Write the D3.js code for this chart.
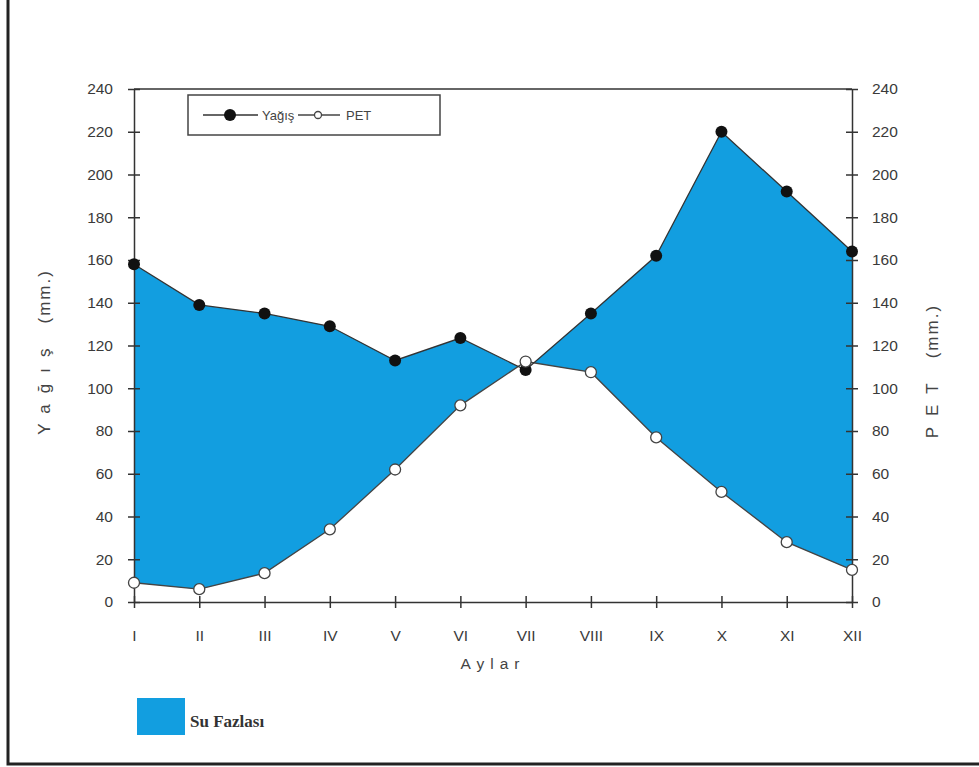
<!DOCTYPE html>
<html>
<head>
<meta charset="utf-8">
<script src="https://cdn.jsdelivr.net/npm/d3@7"></script>
<style>
  body { margin: 0; background: #fff; }
  text { font-family: "Liberation Sans", Arial, sans-serif; }
</style>
</head>
<body>
<div id="chart"></div>
<script>
// Data
var months = ["I", "II", "III", "IV", "V", "VI", "VII", "VIII", "IX", "X", "XI", "XII"];
var yagis = [158, 139, 135, 129, 113, 123.5, 108.5, 135, 162, 220, 192, 164];
var pet = [9, 6, 13.5, 34, 62, 92, 112.5, 107.5, 77, 51.5, 28, 15];
var yTicks = [0, 20, 40, 60, 80, 100, 120, 140, 160, 180, 200, 220, 240];

var W = 979, H = 767;
var margin = {top: 89, right: 127, bottom: 165, left: 134},
    width = W - margin.left - margin.right,
    height = H - margin.top - margin.bottom;

var blue = "#129ee0";
var ink = "#333";

var root = d3.select("#chart")
  .append("svg")
  .attr("width", W)
  .attr("height", H);

// page frame (left and bottom only)
root.append("path")
  .attr("d", "M8,0 L8,764 L979,764")
  .attr("fill", "none")
  .attr("stroke", "#222")
  .attr("stroke-width", 3);

var svg = root.append("g")
  .attr("transform", "translate(" + margin.left + "," + margin.top + ")");

var x = d3.scalePoint().domain(months).range([0, width]);
var y = d3.scaleLinear().domain([0, 240]).range([height, 0]);

var rows = months.map(function(m, i) { return {m: m, yag: yagis[i], pet: pet[i]}; });

// Surplus fill: region below Yağış and above PET
var clipArea = d3.area()
  .x(function(d) { return x(d.m); })
  .y0(y(0))
  .y1(function(d) { return y(d.yag); });

svg.append("clipPath")
  .attr("id", "belowYag")
  .append("path")
  .attr("d", clipArea(rows));

var fillArea = d3.area()
  .x(function(d) { return x(d.m); })
  .y0(function(d) { return y(d.pet); })
  .y1(y(240));

svg.append("path")
  .attr("d", fillArea(rows))
  .attr("fill", blue)
  .attr("clip-path", "url(#belowYag)");

// Axes
function styleAxis(g) {
  g.select(".domain").attr("stroke", ink).attr("stroke-width", 1.5);
  g.selectAll(".tick line").attr("stroke", ink).attr("stroke-width", 1.5);
  g.selectAll(".tick text")
    .attr("fill", "#3a3a3a")
    .style("font-size", "15.5px");
}

var yLeft = svg.append("g")
  .call(d3.axisLeft(y).tickValues(yTicks).tickSize(6).tickSizeOuter(0).tickPadding(15));
yLeft.selectAll(".tick line").attr("x1", 6);
styleAxis(yLeft);

var yRight = svg.append("g")
  .attr("transform", "translate(" + width + ",0)")
  .call(d3.axisRight(y).tickValues(yTicks).tickSize(6).tickSizeOuter(0).tickPadding(14));
yRight.selectAll(".tick line").attr("x1", -6);
styleAxis(yRight);

var xAxis = svg.append("g")
  .attr("transform", "translate(0," + height + ")")
  .call(d3.axisBottom(x).tickSize(6).tickSizeOuter(0).tickPadding(22));
xAxis.selectAll(".tick line").attr("y1", -6);
styleAxis(xAxis);

// top border of the plot
svg.append("line")
  .attr("x1", 0).attr("x2", width)
  .attr("y1", 0).attr("y2", 0)
  .attr("stroke", ink)
  .attr("stroke-width", 1.5);

// Lines
var lineYag = d3.line().x(function(d) { return x(d.m); }).y(function(d) { return y(d.yag); });
var linePet = d3.line().x(function(d) { return x(d.m); }).y(function(d) { return y(d.pet); });

svg.append("path").attr("d", linePet(rows))
  .attr("fill", "none").attr("stroke", "#444").attr("stroke-width", 1.3);
svg.append("path").attr("d", lineYag(rows))
  .attr("fill", "none").attr("stroke", "#333").attr("stroke-width", 1.3);

svg.selectAll(".dotYag")
  .data(rows)
  .enter()
  .append("circle")
  .attr("class", "dotYag")
  .attr("cx", function(d) { return x(d.m); })
  .attr("cy", function(d) { return y(d.yag); })
  .attr("r", 6)
  .attr("fill", "#111");

svg.selectAll(".dotPet")
  .data(rows)
  .enter()
  .append("circle")
  .attr("class", "dotPet")
  .attr("cx", function(d) { return x(d.m); })
  .attr("cy", function(d) { return y(d.pet); })
  .attr("r", 5.5)
  .attr("fill", "#fff")
  .attr("stroke", "#444")
  .attr("stroke-width", 1.3);

// Axis titles: spaced letters, then "(mm.)"
function axisTitle(g, word) {
  var t = g.append("text")
    .attr("text-anchor", "middle")
    .attr("fill", "#444")
    .style("font-size", "17px");
  t.append("tspan").style("letter-spacing", "11px").text(word);
  t.append("tspan").attr("dx", 14).style("letter-spacing", "2px").text("(mm.)");
  return t;
}

axisTitle(svg, "Yağış")
  .attr("transform", "translate(-84," + y(117) + ")rotate(-90)");

axisTitle(svg, "PET")
  .attr("transform", "translate(" + (width + 86) + "," + y(108) + ")rotate(-90)");

svg.append("text")
  .attr("x", x("VI") + (x("VII") - x("VI")) / 2)
  .attr("y", height + 67)
  .attr("text-anchor", "middle")
  .attr("fill", "#444")
  .style("font-size", "15.5px")
  .style("letter-spacing", "6px")
  .text("Aylar");

// Top legend
var lg = svg.append("g").attr("transform", "translate(54,6)");
lg.append("rect")
  .attr("width", 252).attr("height", 40)
  .attr("fill", "#fff")
  .attr("stroke", "#444").attr("stroke-width", 1.5);
lg.append("line").attr("x1", 15).attr("x2", 70).attr("y1", 20).attr("y2", 20)
  .attr("stroke", "#333").attr("stroke-width", 1.5);
lg.append("circle").attr("cx", 42).attr("cy", 20).attr("r", 6).attr("fill", "#111");
lg.append("text").attr("x", 74).attr("y", 25)
  .attr("fill", "#444").style("font-size", "13px").text("Yağış");
lg.append("line").attr("x1", 110).attr("x2", 152).attr("y1", 20).attr("y2", 20)
  .attr("stroke", "#444").attr("stroke-width", 1.5);
lg.append("circle").attr("cx", 130).attr("cy", 20).attr("r", 3.5)
  .attr("fill", "#fff").attr("stroke", "#444").attr("stroke-width", 1.3);
lg.append("text").attr("x", 158).attr("y", 25)
  .attr("fill", "#444").style("font-size", "13px").text("PET");

// Bottom legend
root.append("rect")
  .attr("x", 137).attr("y", 698)
  .attr("width", 48).attr("height", 37)
  .attr("fill", blue);
root.append("text")
  .attr("x", 190).attr("y", 727)
  .attr("fill", "#333")
  .style("font-family", "'Liberation Serif', 'Times New Roman', serif")
  .style("font-weight", "bold")
  .style("font-size", "17px")
  .text("Su Fazlası");
</script>
</body>
</html>
